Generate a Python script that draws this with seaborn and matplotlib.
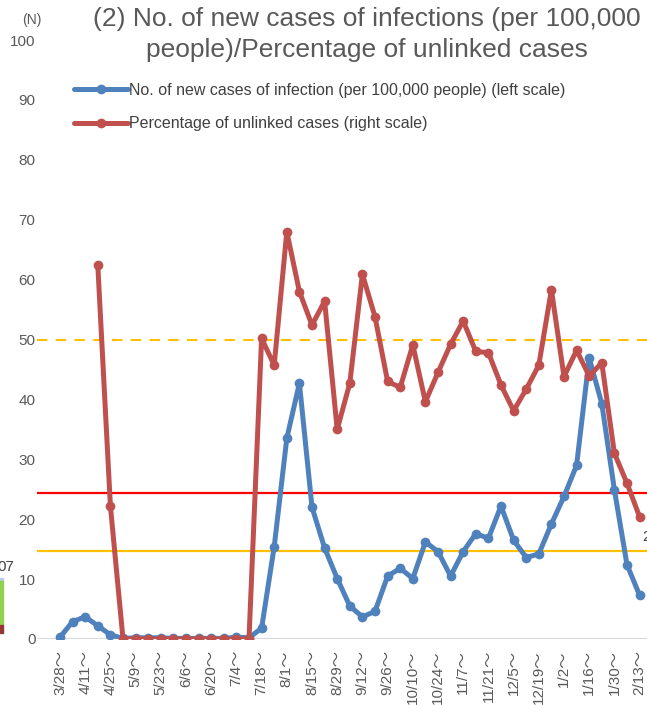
import numpy as np
import pandas as pd
import matplotlib
matplotlib.use("Agg")
import matplotlib.pyplot as plt
from matplotlib.patches import Rectangle
import seaborn as sns

weeks = ["3/28", "4/4", "4/11", "4/18", "4/25", "5/2", "5/9", "5/16", "5/23", "5/30",
         "6/6", "6/13", "6/20", "6/27", "7/4", "7/11", "7/18", "7/25", "8/1", "8/8",
         "8/15", "8/22", "8/29", "9/5", "9/12", "9/19", "9/26", "10/3", "10/10", "10/17",
         "10/24", "10/31", "11/7", "11/14", "11/21", "11/28", "12/5", "12/12", "12/19", "12/26",
         "1/2", "1/9", "1/16", "1/23", "1/30", "2/6", "2/13"]

new_cases = [0.3, 2.9, 3.7, 2.2, 0.7, 0.1, 0.2, 0.2, 0.2, 0.1,
             0.1, 0.1, 0.1, 0.1, 0.3, 0.2, 1.8, 15.4, 33.5, 42.7,
             22.0, 15.2, 10.1, 5.5, 3.7, 4.6, 10.5, 11.8, 10.1, 16.2,
             14.6, 10.5, 14.6, 17.6, 16.8, 22.2, 16.5, 13.6, 14.2, 19.2,
             23.8, 29.0, 46.9, 39.3, 24.9, 12.4, 7.3]

unlinked_pct = [np.nan, np.nan, np.nan, 62.4, 22.2, 0, 0, 0, 0, 0,
                0, 0, 0, 0, 0, 0, 50.2, 45.7, 68.0, 58.0,
                52.4, 56.4, 35.0, 42.7, 60.9, 53.8, 43.0, 42.0, 49.1, 39.6,
                44.5, 49.2, 53.1, 48.0, 47.8, 42.4, 38.1, 41.7, 45.7, 58.3,
                43.8, 48.2, 43.9, 46.1, 31.0, 26.0, 20.4]

ref_dashed = 50
ref_red = 24.4
ref_yellow = 14.7

yticks = [0, 10, 20, 30, 40, 50, 60, 70, 80, 90, 100]

label_new = "No. of new cases of infection (per 100,000 people) (left scale)"
label_pct = "Percentage of unlinked cases (right scale)"
title = "(2) No. of new cases of infections (per 100,000\npeople)/Percentage of unlinked cases"

sns.set_theme(style="white")
plt.rcParams['font.family'] = ['Liberation Sans', 'Noto Sans CJK JP', 'DejaVu Sans']

W, H = 647, 705
fig = plt.figure(figsize=(W / 100, H / 100), dpi=100)

px_left, px_right = 37, 659
y0_px, y100_px = 639, 40
ax = fig.add_axes([px_left / W, (H - y0_px) / H, (px_right - px_left) / W, (y0_px - y100_px) / H])

idx = np.arange(len(weeks))
df = pd.DataFrame({"idx": idx, "new": new_cases, "pct": unlinked_pct})

blue = "#4F81BD"
red = "#C0504D"

sns.lineplot(data=df, x="idx", y="new", ax=ax, color=blue, lw=3.6, marker="o",
             markersize=7, markeredgewidth=0, label=label_new, zorder=4)
sns.lineplot(data=df, x="idx", y="pct", ax=ax, color=red, lw=3.6, marker="o",
             markersize=7, markeredgewidth=0, label=label_pct, zorder=5)

ax.axhline(ref_dashed, color="#FFC000", lw=1.5, ls=(0, (5, 4)), zorder=2)
ax.axhline(ref_red, color="#FF0000", lw=1.6, zorder=2)
ax.axhline(ref_yellow, color="#FFC000", lw=1.6, zorder=2)
ax.axhline(0, color="#D9D9D9", lw=1.5, zorder=1)

x0 = (px_left - 60) / 12.6
x1 = (px_right - 60) / 12.6
ax.set_xlim(x0, x1)
ax.set_ylim(0, 100)

for s in ax.spines.values():
    s.set_visible(False)

ax.set_yticks(yticks)
ax.set_yticklabels([str(v) for v in yticks], fontsize=11, color="#595959")
ax.tick_params(axis="y", length=0, pad=1)

ax.set_xticks(idx[::2])
ax.set_xticklabels([w + "～" for w in weeks[::2]], rotation=90, fontsize=11, color="#595959",
                   va="top", ha="center")
ax.tick_params(axis="x", length=0, pad=8)
ax.set_xlabel("")
ax.set_ylabel("")

leg = ax.legend(loc="upper left", bbox_to_anchor=(74 / W, (H - 83) / H), bbox_transform=fig.transFigure,
                frameon=False, fontsize=11.5, handlelength=3.4, handletextpad=0.05,
                labelspacing=1.15, borderaxespad=0, borderpad=0)
for t in leg.get_texts():
    t.set_color("#404040")

fig.text(367 / W, 1 - 7 / H, title, ha="center", va="top", fontsize=19, color="#595959",
         linespacing=1.35)
fig.text(32 / W, 1 - 20 / H, "(N)", ha="center", va="center", fontsize=10, color="#595959")

# cropped neighbouring elements at the edges
fig.text(-3 / W, 1 - 567 / H, "07", ha="left", va="center", fontsize=11, color="#404040")
fig.text(642 / W, 1 - 537 / H, "2", ha="left", va="center", fontsize=11, color="#404040")
fig.add_artist(Rectangle((0, (H - 581) / H), 3 / W, 3 / H, transform=fig.transFigure, color="#B9CDE5"))
fig.add_artist(Rectangle((0, (H - 625) / H), 3 / W, 44 / H, transform=fig.transFigure, color="#92D050"))
fig.add_artist(Rectangle((0, (H - 633) / H), 3 / W, 8 / H, transform=fig.transFigure, color="#953735"))

fig.savefig("out.png", dpi=100)
